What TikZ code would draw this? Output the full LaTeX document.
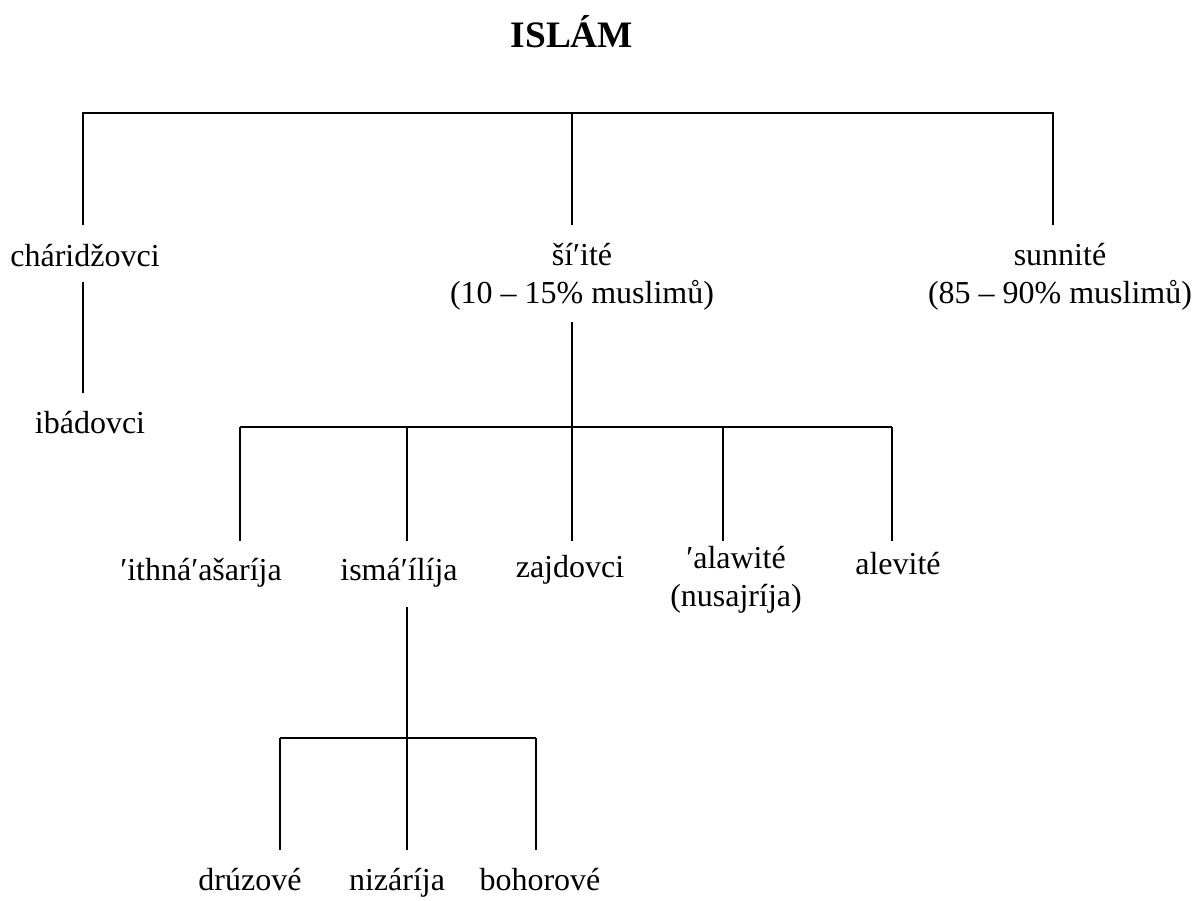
\documentclass[tikz,border=0pt]{standalone}
\usepackage{fontspec}
\setmainfont{Liberation Serif}
\tikzset{
  lbl/.style={font=\fontsize{12}{14}\selectfont, inner sep=0pt, anchor=base, align=center},
}
\begin{document}
\begin{tikzpicture}[x=0.375pt,y=-0.375pt,line width=1pt]
  \useasboundingbox (0,0) rectangle (1204,900);

  % --- titolo ---
  \node[font=\fontsize{14}{16}\selectfont\bfseries, anchor=base] (islam) at (572,47) {ISLÁM};

  % --- primo livello ---
  \node[lbl] (charid) at (85,266) {cháridžovci};
  \node[lbl] (shia) at (582,303) {ší′ité\\(10 – 15\% muslimů)};
  \node[lbl] (sunni) at (1060,303) {sunnité\\(85 – 90\% muslimů)};
  \node[lbl] (ibad) at (90,433) {ibádovci};

  % --- secondo livello ---
  \node[lbl] (ithna) at (201,580) {′ithná′ašaríja};
  \node[lbl] (ismail) at (399,580) {ismá′ílíja};
  \node[lbl] (zajd) at (570,577) {zajdovci};
  \node[lbl] (alawi) at (736,606) {′alawité\\(nusajríja)};
  \node[lbl] (alevi) at (898,574) {alevité};

  % --- terzo livello ---
  \node[lbl] (druz) at (250,890) {drúzové};
  \node[lbl] (nizar) at (397,890) {nizáríja};
  \node[lbl] (bohor) at (540,890) {bohorové};

  % --- punti di attacco ---
  \coordinate (a1) at (83,113);
  \coordinate (a2) at (572,113);
  \coordinate (a3) at (1053,113);
  \coordinate (b1) at (83,225);
  \coordinate (b2) at (572,225);
  \coordinate (b3) at (1053,225);
  \coordinate (c1) at (83,282);
  \coordinate (c2) at (83,393);
  \coordinate (s1) at (572,322);
  \coordinate (h1) at (240,427);
  \coordinate (h5) at (892,427);
  \coordinate (i1) at (407,607);
  \coordinate (k1) at (280,738);
  \coordinate (k3) at (536,738);

  % --- islam -> rami ---
  \draw (b1) -- (a1) -- (a3) -- (b3);
  \draw (a2) -- (b2);

  % --- charidzovci -> ibadovci ---
  \draw (c1) -- (c2);

  % --- siiti -> sette ---
  \draw (h1) -- (h5);
  \draw (s1) -- (572,541);
  \foreach \x in {240,407,723,892}
    \draw (\x,427) -- (\x,541);

  % --- ismailija -> rami ---
  \draw (i1) -- (407,738);
  \draw (k1) -- (k3);
  \foreach \x in {280,407,536}
    \draw (\x,738) -- (\x,850);

\end{tikzpicture}
\end{document}
